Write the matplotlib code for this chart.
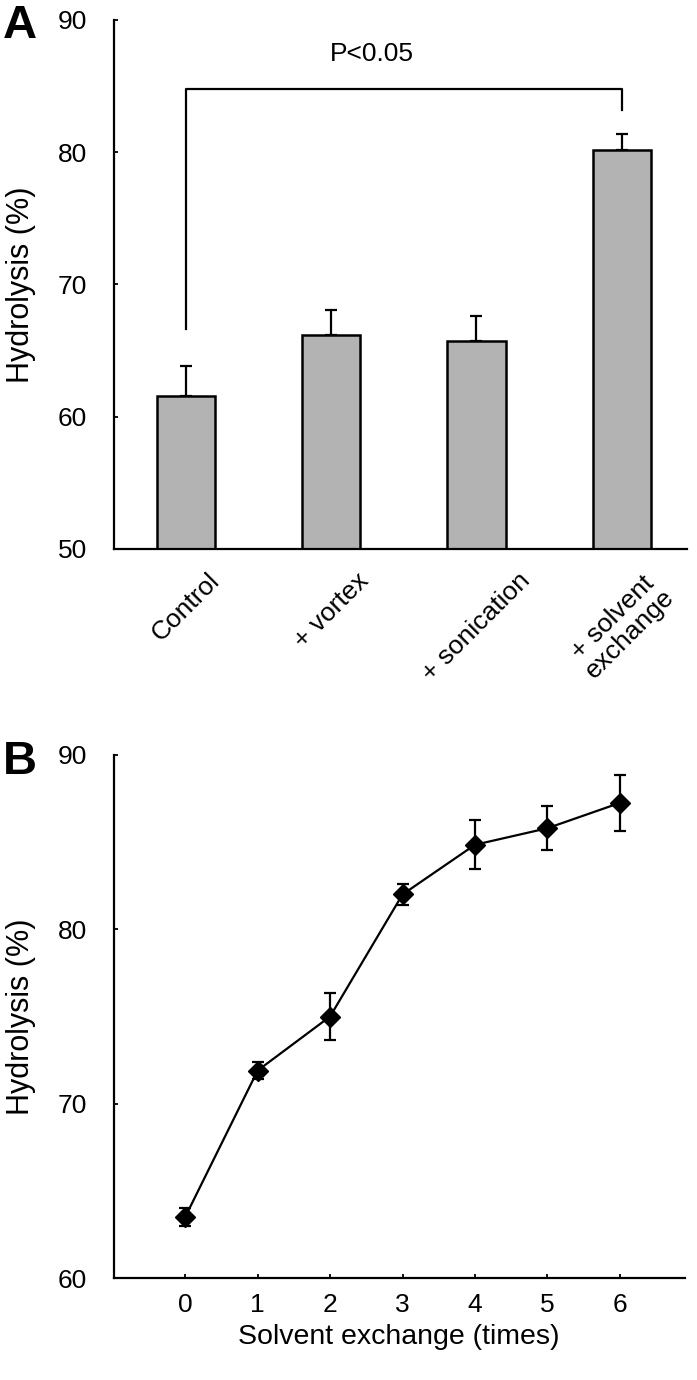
import numpy as np
import matplotlib
matplotlib.use('Agg')
import matplotlib.pyplot as plt

plt.rcParams['font.family'] = ['Liberation Sans', 'DejaVu Sans']

# Panel A data
treatments = ['Control', '+ vortex', '+ sonication', '+ solvent\nexchange']
hydrolysis_a = [61.6, 66.2, 65.7, 80.2]
err_a = [2.2, 1.9, 1.95, 1.2]

# Panel B data
exchanges = [0, 1, 2, 3, 4, 5, 6]
hydrolysis_b = [63.5, 71.9, 75.0, 82.0, 84.85, 85.8, 87.25]
err_b = [0.5, 0.5, 1.35, 0.6, 1.4, 1.25, 1.6]

W, H = 697, 1380
FS = 19
fig = plt.figure(figsize=(W / 100, H / 100), dpi=100)


def px_axes(x0, y0, x1, y1):
    # axes from pixel box (top-left origin)
    return fig.add_axes([x0 / W, 1 - y1 / H, (x1 - x0) / W, (y1 - y0) / H])


def style_axes(ax):
    for s in ['top', 'right']:
        ax.spines[s].set_visible(False)
    for s in ['left', 'bottom']:
        ax.spines[s].set_linewidth(1.6)
    ax.tick_params(axis='both', direction='in', length=3, width=1.3,
                   labelsize=FS, pad=19)


# ---- Panel A ----
ax1 = px_axes(113.5, 20, 687, 549)
style_axes(ax1)
xa = np.arange(len(treatments))
ax1.bar(xa, hydrolysis_a, width=0.4, bottom=0, color='#b3b3b3',
        edgecolor='black', linewidth=1.8, zorder=2)
ax1.errorbar(xa, hydrolysis_a, yerr=[np.zeros(len(err_a)), err_a], fmt='none',
             ecolor='black', elinewidth=1.6, capsize=4, capthick=1.6, zorder=1)
ax1.set_xlim(-0.5, 3.45)
ax1.set_ylim(50, 90)
ax1.set_yticks([50, 60, 70, 80, 90])
ax1.set_xticks(xa)
ax1.set_xticklabels(treatments, rotation=45, ha='center', va='top',
                    multialignment='center', linespacing=1.0)
ax1.tick_params(axis='x', length=0, pad=14)
ax1.set_ylabel('Hydrolysis (%)', fontsize=22)
ax1.yaxis.set_label_coords(-0.136, 0.5)

# significance bracket
ax1.plot([0, 0, 3, 3], [66.6, 84.8, 84.8, 83.2], color='black', lw=1.6,
         clip_on=False)
ax1.text(1.28, 87.4, 'P<0.05', ha='center', va='center', fontsize=FS)

# ---- Panel B ----
ax2 = px_axes(113.5, 755, 685, 1278)
style_axes(ax2)
ax2.errorbar(exchanges, hydrolysis_b, yerr=err_b, color='black', lw=1.6,
             marker='D', markersize=10, ecolor='black', elinewidth=1.6,
             capsize=4, capthick=1.6)
ax2.set_xlim(-0.99, 6.9)
ax2.set_ylim(60, 90)
ax2.set_yticks([60, 70, 80, 90])
ax2.set_xticks(exchanges)
ax2.tick_params(axis='x', pad=11)
ax2.set_ylabel('Hydrolysis (%)', fontsize=22)
ax2.yaxis.set_label_coords(-0.136, 0.5)
ax2.set_xlabel('Solvent exchange (times)', fontsize=20.5)
ax2.xaxis.set_label_coords(0.5, -0.088)

# panel letters
fig.text(3 / W, 1 - 4 / H, 'A', fontsize=34, fontweight='bold', va='top', ha='left')
fig.text(3 / W, 1 - 740 / H, 'B', fontsize=34, fontweight='bold', va='top', ha='left')

fig.savefig('out.png', dpi=100)
